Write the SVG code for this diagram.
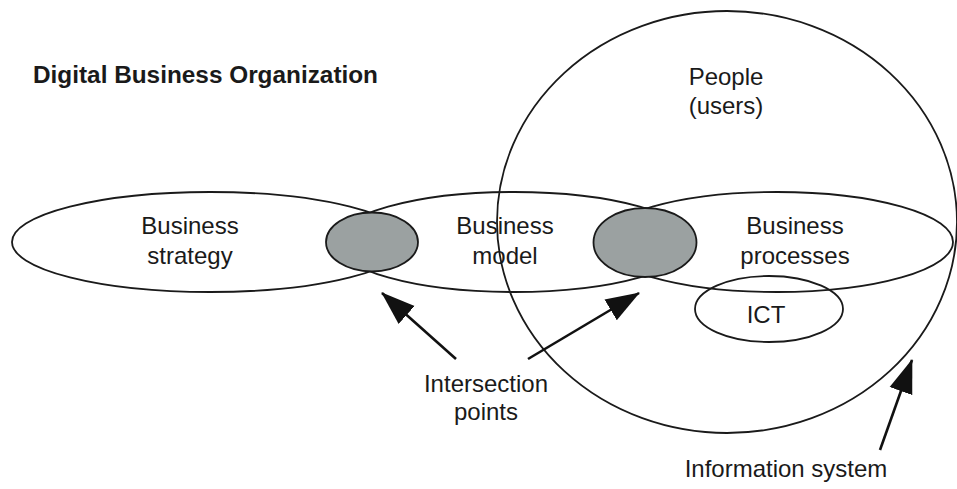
<svg xmlns="http://www.w3.org/2000/svg" width="957" height="489" viewBox="0 0 957 489">
<style>
.o{fill:none;stroke:#1a1a1a;stroke-width:1.8}
.g{fill:#9ba1a1;stroke:#1a1a1a;stroke-width:1.8}
.t{font-family:"Liberation Sans",Arial,sans-serif;font-size:24px;fill:#1a1a1a;text-anchor:middle}
.h{font-family:"Liberation Sans",Arial,sans-serif;font-size:23px;font-weight:bold;fill:#1a1a1a}
.a{stroke:#111;stroke-width:2.6;fill:none;marker-end:url(#ah)}
</style>
<defs>
<marker id="ah" markerUnits="userSpaceOnUse" markerWidth="34" markerHeight="26" viewBox="0 -13 34 26" refX="33" refY="0" orient="auto">
<path d="M0,-12 L34,0 L0,12 z" fill="#111"/>
</marker>
</defs>
<rect width="957" height="489" fill="#fff"/>
<text class="h" x="33" y="83" textLength="345" lengthAdjust="spacingAndGlyphs">Digital Business Organization</text>
<g id="strategy"><ellipse class="o" cx="210" cy="242" rx="198" ry="50"/><text class="t" x="190" y="234">Business</text><text class="t" x="190" y="264">strategy</text></g>
<g id="model"><ellipse class="o" cx="514" cy="242" rx="178" ry="50"/><text class="t" x="505" y="234">Business</text><text class="t" x="505" y="264">model</text></g>
<g id="processes"><ellipse class="o" cx="777" cy="242" rx="176" ry="50"/><text class="t" x="795" y="234">Business</text><text class="t" x="795" y="264">processes</text></g>
<g id="ict"><ellipse class="o" cx="769" cy="309" rx="74" ry="33"/><text class="t" x="766" y="323">ICT</text></g>
<g id="information-system"><ellipse class="o" cx="727" cy="222" rx="230" ry="211"/><text class="t" x="726" y="85">People</text><text class="t" x="726" y="114">(users)</text></g>
<g id="intersection-left"><ellipse class="g" cx="372" cy="242" rx="46" ry="29.5"/></g>
<g id="intersection-right"><ellipse class="g" cx="645" cy="242.5" rx="51.5" ry="34.5"/></g>
<g id="connectors">
<line class="a" x1="456" y1="359" x2="382" y2="293"/>
<line class="a" x1="528" y1="359" x2="639" y2="293"/>
<line class="a" x1="880" y1="450" x2="912" y2="360"/>
</g>
<g id="intersection-label"><text class="t" x="486" y="392">Intersection</text><text class="t" x="486" y="420">points</text></g>
<g id="system-label"><text class="t" x="786" y="477">Information system</text></g>
</svg>
